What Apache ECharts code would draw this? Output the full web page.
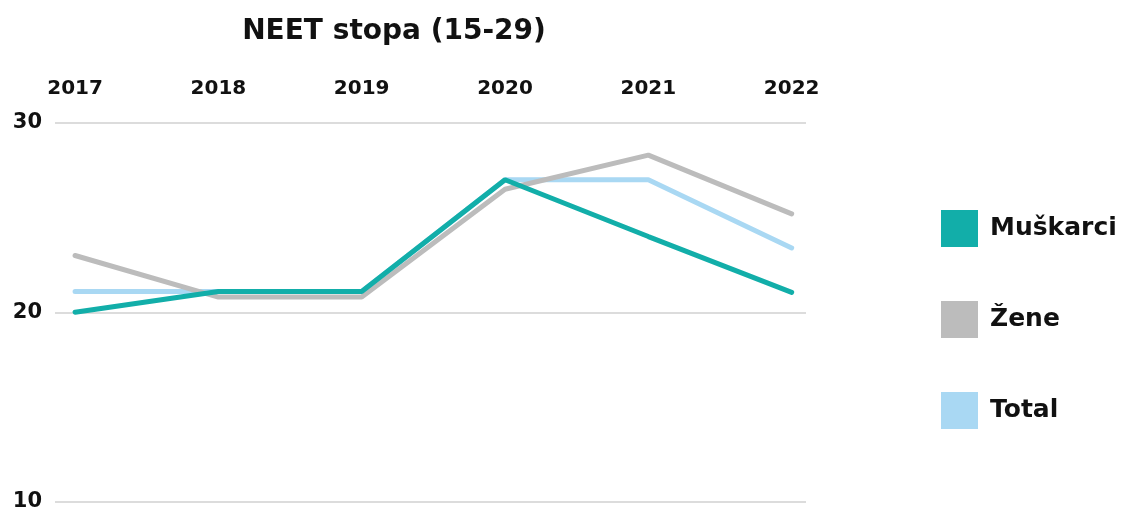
<!DOCTYPE html>
<html>
<head>
<meta charset="utf-8">
<script src="https://cdn.jsdelivr.net/npm/echarts@6/dist/echarts.min.js"></script>
<style>
  html, body { margin: 0; padding: 0; background: #fff; }
  #chart { width: 1126px; height: 512px; }
</style>
</head>
<body>
<div id="chart"></div>
<script>
const years = [2017, 2018, 2019, 2020, 2021, 2022]
const muskarci = [20.0, 21.1, 21.1, 27.0, 24.0, 21.05]
const zene = [23.0, 20.8, 20.8, 26.5, 28.3, 25.2]
const total = [21.1, 21.1, 21.1, 27.0, 27.0, 23.4]
const yTicks = [10, 20, 30]

const font = 'DejaVu Sans'

function pairs(values) {
  return values.map((v, i) => [years[i], v])
}

function lineSeries(name, values, color) {
  return {
    name: name,
    type: 'line',
    data: pairs(values),
    symbol: 'none',
    color: color,
    lineStyle: { width: 5, color: color, cap: 'round' }
  }
}

const chart = echarts.init(document.getElementById('chart'))

chart.setOption({
  animation: false,
  backgroundColor: '#fff',
  title: {
    text: 'NEET stopa (15-29)',
    left: 389,
    textAlign: 'center',
    top: 13,
    textStyle: { fontFamily: font, fontWeight: 'bold', fontSize: 28, color: '#111' }
  },
  legend: {
    orient: 'vertical',
    left: 936,
    top: 205,
    icon: 'rect',
    itemWidth: 37,
    itemHeight: 37,
    itemGap: 54,
    data: ['Muškarci', 'Žene', 'Total'],
    textStyle: { fontFamily: font, fontWeight: 'bold', fontSize: 25, color: '#111', padding: [0, 0, 0, 7] }
  },
  grid: { left: 55, right: 320, top: 123, bottom: 9 },
  xAxis: {
    type: 'value',
    position: 'top',
    min: 2016.86,
    max: 2022.1,
    splitLine: { show: false },
    axisLine: { show: false },
    axisTick: { show: false },
    axisLabel: {
      customValues: years,
      margin: 24,
      fontFamily: font,
      fontWeight: 'bold',
      fontSize: 20,
      color: '#111',
      formatter: v => String(v)
    }
  },
  yAxis: {
    type: 'value',
    min: 10,
    max: 30,
    interval: 10,
    axisLine: { show: false },
    axisTick: { show: false },
    splitLine: { lineStyle: { color: '#dcdcdc', width: 2 } },
    axisLabel: {
      customValues: yTicks,
      margin: 13,
      fontFamily: font,
      fontWeight: 'bold',
      fontSize: 21,
      color: '#111'
    }
  },
  series: [
    lineSeries('Total', total, '#a9d8f3'),
    lineSeries('Žene', zene, '#bcbcbc'),
    lineSeries('Muškarci', muskarci, '#12aea9')
  ]
})
</script>
</body>
</html>
